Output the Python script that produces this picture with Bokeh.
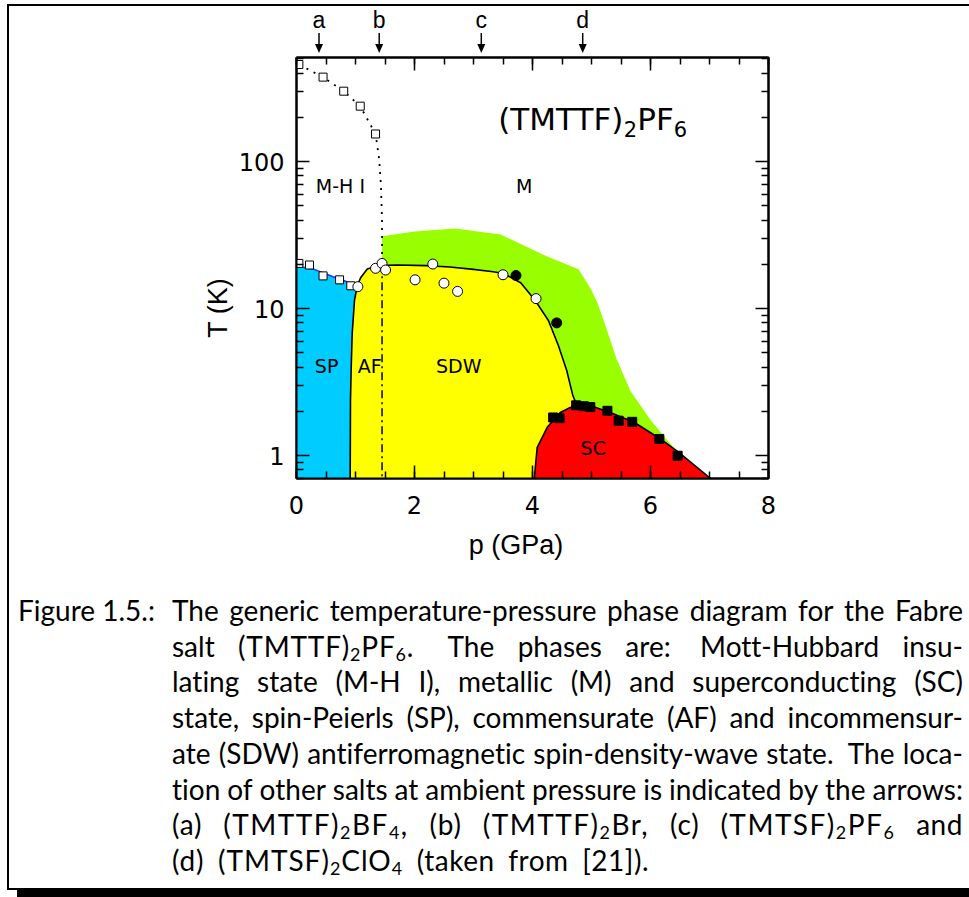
import numpy as np
from bokeh.plotting import figure
from bokeh.models import (Range1d, FixedTicker, LinearAxis, LogAxis, PrintfTickFormatter,
                          Label, Div, GridBox)
from bokeh.embed import file_html
from bokeh.resources import INLINE

# ---------------- phase diagram data: pressure p (GPa), temperature T (K) ----------------
# Mott-Hubbard insulator crossover (open squares, dotted line)
mhi_pts_p = [0.04, 0.45, 0.80, 1.08, 1.34]
mhi_pts_T = [457, 375, 301, 238, 154]
mhi_line_p = [0.00, 0.04, 0.45, 0.80, 1.08, 1.34, 1.40, 1.43, 1.45, 1.45]
mhi_line_T = [510, 457, 375, 301, 238, 154, 105, 70, 40, 20]

# spin-Peierls transition (open squares, blue line)
sp_pts_p = [0.04, 0.22, 0.45, 0.73, 0.92]
sp_pts_T = [20.3, 19.8, 16.7, 15.7, 14.3]
sp_line_p = [0.00, 0.30, 0.60, 0.90, 1.03]
sp_line_T = [19.5, 18.5, 16.6, 15.0, 14.3]

# SP / AF phase border
spaf_p = [0.91, 0.915, 0.927, 0.944, 0.983, 1.03]
spaf_T = [0.7, 2.37, 3.98, 6.75, 11.4, 14.3]

# AF / SDW ordering line
sdw_p = [1.03, 1.09, 1.20, 1.37, 1.71, 2.20, 2.60, 3.00, 3.30, 3.50, 3.80, 4.05, 4.27, 4.44, 4.58, 4.68, 4.75]
sdw_T = [14.3, 16.3, 18.6, 19.6, 19.8, 19.6, 19.2, 18.5, 17.9, 17.4, 15.0, 11.3, 8.3, 5.6, 3.8, 2.6, 2.2]

# superconducting dome
sc_p = [4.03, 4.08, 4.25, 4.47, 4.64, 4.81, 5.04, 5.38, 5.72, 6.17, 6.51, 7.02]
sc_T = [0.7, 1.14, 1.56, 1.97, 2.13, 2.22, 2.15, 1.92, 1.69, 1.30, 1.03, 0.7]

# upper edge of the green region
shade_p = [1.45, 2.00, 2.69, 3.46, 4.22, 4.78, 4.98, 5.10, 5.27, 5.42, 5.66, 6.00, 6.34, 6.51]
shade_T = [31.0, 33.5, 35.0, 31.9, 22.9, 18.5, 13.8, 11.0, 7.0, 4.6, 2.75, 1.75, 1.2, 1.03]

# commensurate / incommensurate border (dash-dot)
ci_p = [1.45, 1.45]
ci_T = [20, 0.7]

# ordering temperatures
open_circ_p = [1.04, 1.34, 1.45, 1.51, 2.01, 2.31, 2.50, 2.73, 3.50, 4.06]
open_circ_T = [14.1, 18.8, 20.3, 18.3, 15.7, 20.1, 14.9, 13.1, 17.0, 11.7]
full_circ_p = [3.72, 4.41]
full_circ_T = [16.8, 8.0]
sc_pts_p = [4.35, 4.46, 4.74, 4.87, 4.98, 5.27, 5.46, 5.69, 6.15, 6.46]
sc_pts_T = [1.82, 1.80, 2.20, 2.17, 2.14, 2.02, 1.73, 1.70, 1.30, 1.00]

# other salts at ambient pressure
salt_tags = ["a", "b", "c", "d"]
salt_p = [0.39, 1.41, 3.14, 4.86]

# phase names
phase_names = ["M-H I", "M", "SP", "AF", "SDW", "SC"]
phase_p = [0.745, 3.86, 0.51, 1.24, 2.75, 5.03]
phase_T = [68.7, 68.7, 4.1, 4.1, 4.1, 1.12]

x_major = [0, 2, 4, 6, 8]
x_minor = [0.5 * i for i in range(17)]
y_major = [1, 10, 100]
y_minor = [0.7, 0.8, 0.9] + [k for k in range(2, 10)] + [10 * k for k in range(2, 10)] + [100 * k for k in range(2, 6)]

# ---------------- geometry ----------------
W, H = 969, 897
FL, FR, FT, FB = 296, 768, 57, 478          # frame edges on the canvas
PX_PER_GPA = (FR - FL) / 8.0
Y0, Y1 = 0.7, 510

CHART_FONT = "DejaVu Sans"
CAP_FONT = "Lato"

# ---------------- chart ----------------
p = figure(width=W, height=H, x_range=Range1d(0, 8), y_range=Range1d(Y0, Y1),
           y_axis_type="log", output_backend="svg", toolbar_location=None,
           min_border_left=FL, min_border_right=W - FR, min_border_top=FT,
           min_border_bottom=H - FB)
p.background_fill_color = "white"
p.border_fill_color = "white"
p.outline_line_color = "black"
p.outline_line_width = 2
p.xgrid.visible = False
p.ygrid.visible = False


def style_axis(ax, show_labels):
    ax.major_tick_in = 13
    ax.major_tick_out = 0
    ax.minor_tick_in = 7
    ax.minor_tick_out = 0
    ax.major_tick_line_width = 1.5
    ax.minor_tick_line_width = 1.5
    ax.major_tick_line_color = "black"
    ax.minor_tick_line_color = "black"
    ax.axis_line_color = "black"
    ax.axis_line_width = 2
    ax.major_label_text_font = CHART_FONT
    ax.major_label_text_font_size = "24px" if show_labels else "1px"
    ax.major_label_text_color = "black" if show_labels else None


xt = FixedTicker(ticks=x_major, minor_ticks=x_minor)
yt = FixedTicker(ticks=y_major, minor_ticks=y_minor)

xa = p.xaxis[0]
xa.ticker = xt
style_axis(xa, True)
xa.major_label_standoff = 17

ya = p.yaxis[0]
ya.ticker = yt
ya.formatter = PrintfTickFormatter(format="%d")
style_axis(ya, True)
ya.major_label_standoff = 12

top_ax = LinearAxis(ticker=xt)
style_axis(top_ax, False)
p.add_layout(top_ax, "above")

right_ax = LogAxis(ticker=yt)
style_axis(right_ax, False)
p.add_layout(right_ax, "right")

# phase regions
green_x = shade_p + [shade_p[-1], shade_p[0]]
green_y = shade_T + [Y0, Y0]
p.patch(green_x, green_y, fill_color="#99ff00", line_color=None)

yellow_x = spaf_p + sdw_p[1:] + [sdw_p[-1]]
yellow_y = spaf_T + sdw_T[1:] + [Y0]
p.patch(yellow_x, yellow_y, fill_color="#ffff00", line_color=None)

blue_x = [0.0] + sp_line_p + spaf_p[::-1]
blue_y = [Y0] + sp_line_T + spaf_T[::-1]
p.patch(blue_x, blue_y, fill_color="#00ccff", line_color=None)

p.patch(sc_p, sc_T, fill_color="#ff0000", line_color=None)

# phase borders
p.line(sp_line_p, sp_line_T, line_color="#2233ff", line_width=1.5)
p.line(spaf_p + sdw_p[1:], spaf_T + sdw_T[1:], line_color="black", line_width=1.6)
p.line(sc_p, sc_T, line_color="black", line_width=1.6)
p.line(mhi_line_p, mhi_line_T, line_color="black", line_width=1.8, line_dash="2 6")
p.line(ci_p, ci_T, line_color="black", line_width=1.5, line_dash="8 4 2 4")

# measured points
p.scatter(mhi_pts_p, mhi_pts_T, marker="square", size=8, fill_color="white",
          line_color="black", line_width=1)
p.scatter(sp_pts_p, sp_pts_T, marker="square", size=8, fill_color="white",
          line_color="black", line_width=1)
p.scatter(open_circ_p, open_circ_T, marker="circle", size=10, fill_color="white",
          line_color="black", line_width=1)
p.scatter(full_circ_p, full_circ_T, marker="circle", size=10, fill_color="black",
          line_color="black", line_width=1)
p.scatter(sc_pts_p, sc_pts_T, marker="square", size=9, fill_color="black",
          line_color="black", line_width=1)

# phase names
for name, px_, tx_ in zip(phase_names, phase_p, phase_T):
    p.add_layout(Label(x=px_, y=tx_, text=name, text_align="center", text_baseline="middle",
                       text_font=CHART_FONT, text_font_size="19px", text_color="black"))

# compound name with subscripts: (TMTTF)2PF6
big, small = 31, 21
w_tmttf = 4.051 * big          # DejaVu Sans advance of "(TMTTF)"
w_sub = 0.636 * small
w_pf = 1.178 * big
title_parts = [("(TMTTF)", big, 0, 0), ("2", small, w_tmttf, -10),
               ("PF", big, w_tmttf + w_sub, 0), ("6", small, w_tmttf + w_sub + w_pf, -10)]
for txt, fs, dx, dy in title_parts:
    p.add_layout(Label(x=3.42, y=196, x_offset=dx, y_offset=dy, text=txt, text_align="left",
                       text_baseline="middle", text_font=CHART_FONT,
                       text_font_size=f"{fs}px", text_color="black"))

# ---------------- page layer: frame rules, axis titles, salt arrows, caption ----------------
def px_of(pressure):
    """canvas column of a pressure value (same mapping as the chart's x range)"""
    return FL + pressure * PX_PER_GPA


svg = [f'<svg width="{W}" height="{H}" style="position:absolute;left:0;top:0" '
       f'xmlns="http://www.w3.org/2000/svg">']
# rules of the figure float
for x0, y0, w, h in [(7, 4, W - 7, 2), (7, 4, 2, 886), (7, 888, W - 7, 2), (17, 889, W - 17, 8)]:
    svg.append(f'<rect x="{x0}" y="{y0}" width="{w}" height="{h}" fill="black"/>')
# axis titles
svg.append(f'<text x="516" y="545" text-anchor="middle" dominant-baseline="central" '
           f'font-family="{CHART_FONT}" font-size="27px" fill="black">p (GPa)</text>')
svg.append(f'<text transform="translate(218,308) rotate(-90)" text-anchor="middle" '
           f'dominant-baseline="central" font-family="{CHART_FONT}" font-size="27px" '
           f'fill="black">T (K)</text>')
# arrows for the other salts
for tag, sp in zip(salt_tags, salt_p):
    xa_ = px_of(sp)
    svg.append(f'<line x1="{xa_:.1f}" y1="33" x2="{xa_:.1f}" y2="46" stroke="black" stroke-width="1.5"/>')
    svg.append(f'<polygon points="{xa_ - 4:.1f},44 {xa_ + 4:.1f},44 {xa_:.1f},53" fill="black"/>')
    svg.append(f'<text x="{xa_:.1f}" y="20" text-anchor="middle" dominant-baseline="central" '
               f'font-family="{CHART_FONT}" font-size="23px" fill="black">{tag}</text>')
svg.append('</svg>')


def sub(s):
    return f'<span style="font-size:64%;position:relative;top:4px">{s}</span>'


def word(s, extra=0, spacing=0):
    style = ""
    if extra:
        style += f"margin-right:{extra}px;"
    if spacing:
        style += f"letter-spacing:{spacing}px;"
    return f'<span style="{style}">{s}</span>' if style else f'<span>{s}</span>'


cap_lines = [
    [word("The"), word("generic"), word("temperature-pressure"), word("phase"), word("diagram"),
     word("for"), word("the"), word("Fabre")],
    [word("salt"), word("(TMTTF)" + sub("2") + "PF" + sub("6") + ".", 10, 0.8), word("The"),
     word("phases"), word("are:", 6), word("Mott-Hubbard"), word("insu-")],
    [word("lating"), word("state"), word("(M-H"), word("I),"), word("metallic"), word("(M)"),
     word("and"), word("superconducting"), word("(SC)")],
    [word("state,"), word("spin-Peierls"), word("(SP),"), word("commensurate"), word("(AF)"),
     word("and"), word("incommensur-")],
    [word("ate"), word("(SDW)"), word("antiferromagnetic"), word("spin-density-wave"),
     word("state.", 6), word("The"), word("loca-")],
    [word("tion"), word("of"), word("other"), word("salts"), word("at"), word("ambient"),
     word("pressure"), word("is"), word("indicated"), word("by"), word("the"), word("arrows:")],
    [word("(a)", 0, 0.8), word("(TMTTF)" + sub("2") + "BF" + sub("4") + ",", 0, 1.5),
     word("(b)", 0, 0.8), word("(TMTTF)" + sub("2") + "Br,", 0, 1.5), word("(c)", 0, 0.8),
     word("(TMTSF)" + sub("2") + "PF" + sub("6"), 0, 1.5), word("and", 0, 0.5)],
    [word("(d)", 0, 0.8), word("(TMTSF)" + sub("2") + "ClO" + sub("4"), 0, 1.0), word("(taken", 0, 0.5),
     word("from", 0, 0.5), word("[21]).", 0, 0.5)],
]
line_widths = [791] * 7 + [477]
CAP_LEFT, CAP_TOP, CAP_STEP = 172, 612, 35.7

text_style = (f"font-family:{CAP_FONT};font-size:28px;color:black;line-height:36px;height:36px;"
              "white-space:nowrap;font-variant-ligatures:none;font-feature-settings:'liga' 0,'clig' 0;")
parts = []
parts.append(f'<div style="position:absolute;left:18px;top:{CAP_TOP - 20:.1f}px;{text_style}">Figure 1.5.:</div>')
for i, (ws, lw) in enumerate(zip(cap_lines, line_widths)):
    top = CAP_TOP + CAP_STEP * i - 20
    parts.append(f'<div style="position:absolute;left:{CAP_LEFT}px;top:{top:.1f}px;width:{lw}px;'
                 f'display:flex;justify-content:space-between;{text_style}">' + "".join(ws) + '</div>')

html = (f'<div style="position:relative;width:{W}px;height:{H}px;">' + "".join(svg)
        + "".join(parts) + '</div>')
page = Div(text=html, width=W, height=H, margin=(0, 0, 0, 0))

layout = GridBox(children=[(p, 0, 0), (page, 0, 0)])
open("out.html", "w").write(file_html(layout, INLINE))
